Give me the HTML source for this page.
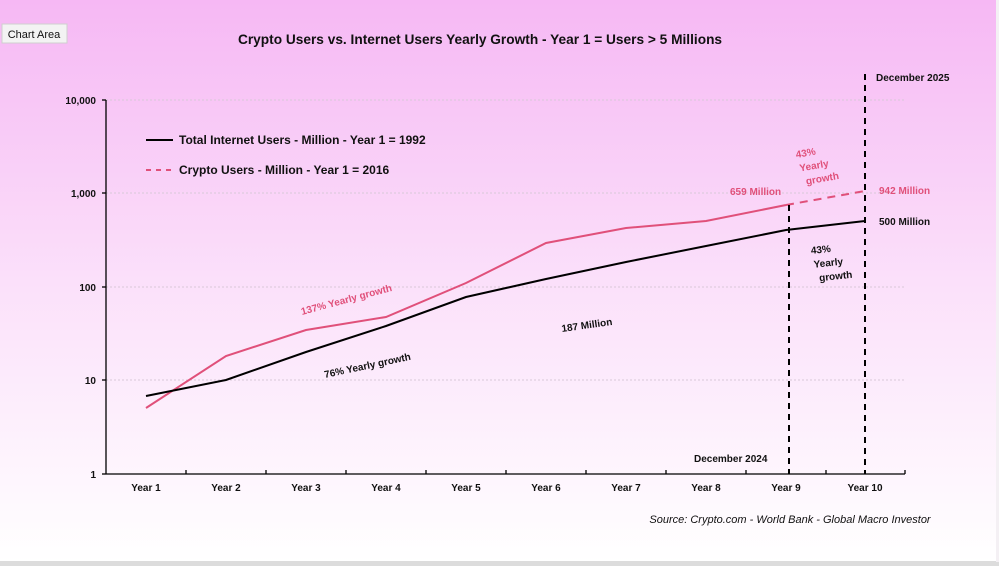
<!DOCTYPE html>
<html><head><meta charset="utf-8"><style>
html,body{margin:0;padding:0}
body{width:999px;height:566px;overflow:hidden;background:#fff;font-family:"Liberation Sans",sans-serif}
</style></head><body>
<svg width="999" height="566" viewBox="0 0 999 566" xmlns="http://www.w3.org/2000/svg">
<defs>
<linearGradient id="bg" x1="0" y1="0" x2="0" y2="1">
<stop offset="0" stop-color="#f6b8f4"/>
<stop offset="0.5" stop-color="#fbe0fa"/>
<stop offset="1" stop-color="#ffffff"/>
</linearGradient>
</defs>
<rect x="0" y="0" width="996" height="562" fill="url(#bg)"/>
<rect x="0" y="561" width="999" height="5" fill="#dcdcdc"/>
<rect x="996" y="0" width="3" height="562" fill="#f4f0f4"/>
<rect x="2" y="24" width="65" height="19" fill="#f3f3f3" stroke="#cfcfcf"/>
<text x="34" y="38" font-size="11" text-anchor="middle" fill="#111">Chart Area</text>
<text x="480" y="44" font-size="13.7" font-weight="bold" text-anchor="middle" fill="#111">Crypto Users vs. Internet Users Yearly Growth - Year 1 = Users &gt; 5 Millions</text>
<g stroke="#d8c8d8" stroke-dasharray="2,2" stroke-width="1">
<line x1="106" y1="100" x2="905" y2="100"/><line x1="106" y1="193" x2="905" y2="193"/>
<line x1="106" y1="287" x2="905" y2="287"/><line x1="106" y1="380" x2="905" y2="380"/>
</g>
<g stroke="#000" stroke-width="1.3">
<line x1="106" y1="100" x2="106" y2="474"/>
<line x1="106" y1="474" x2="905" y2="474"/>
<line x1="102" y1="100" x2="106" y2="100"/><line x1="102" y1="193" x2="106" y2="193"/>
<line x1="102" y1="287" x2="106" y2="287"/><line x1="102" y1="380" x2="106" y2="380"/>
<line x1="102" y1="474" x2="106" y2="474"/>
<line x1="186" y1="470" x2="186" y2="474"/><line x1="266" y1="470" x2="266" y2="474"/>
<line x1="346" y1="470" x2="346" y2="474"/><line x1="426" y1="470" x2="426" y2="474"/>
<line x1="506" y1="470" x2="506" y2="474"/><line x1="586" y1="470" x2="586" y2="474"/>
<line x1="666" y1="470" x2="666" y2="474"/><line x1="746" y1="470" x2="746" y2="474"/>
<line x1="826" y1="470" x2="826" y2="474"/><line x1="905" y1="470" x2="905" y2="474"/>
</g>
<g font-size="10" font-weight="bold" fill="#111" text-anchor="end">
<text x="96" y="104">10,000</text><text x="96" y="197">1,000</text>
<text x="96" y="291">100</text><text x="96" y="384">10</text><text x="96" y="478">1</text>
</g>
<g font-size="10" font-weight="bold" fill="#111" text-anchor="middle">
<text x="146" y="491">Year 1</text><text x="226" y="491">Year 2</text><text x="306" y="491">Year 3</text>
<text x="386" y="491">Year 4</text><text x="466" y="491">Year 5</text><text x="546" y="491">Year 6</text>
<text x="626" y="491">Year 7</text><text x="706" y="491">Year 8</text><text x="786" y="491">Year 9</text>
<text x="865" y="491">Year 10</text>
</g>
<polyline fill="none" stroke="#e0507a" stroke-width="2" points="146,408 226,356 306,330 386,317 466,283 546,243 626,228 706,221 786,205"/>
<line x1="786" y1="205" x2="865" y2="191" stroke="#e0507a" stroke-width="2" stroke-dasharray="8,6"/>
<polyline fill="none" stroke="#000" stroke-width="2" points="146,396 226,380 306,352 386,326 466,297 546,279 626,262 706,246 786,230 865,221"/>
<line x1="789" y1="205" x2="789" y2="474" stroke="#000" stroke-width="2" stroke-dasharray="6,5"/>
<line x1="865" y1="74" x2="865" y2="474" stroke="#000" stroke-width="2" stroke-dasharray="6,5"/>
<line x1="146" y1="140" x2="173" y2="140" stroke="#000" stroke-width="2"/>
<line x1="146" y1="170" x2="175" y2="170" stroke="#e0507a" stroke-width="2" stroke-dasharray="5,5"/>
<g font-size="12" font-weight="bold" fill="#111">
<text x="179" y="144">Total Internet Users - Million - Year 1 = 1992</text>
<text x="179" y="174">Crypto Users - Million - Year 1 = 2016</text>
</g>
<g font-size="10" font-weight="bold">
<text x="876" y="81" fill="#111">December 2025</text>
<text x="694" y="462" fill="#111">December 2024</text>
<text x="730" y="195" fill="#e0507a">659 Million</text>
<text x="879" y="194" fill="#e0507a">942 Million</text>
<text x="879" y="225" fill="#111">500 Million</text>
<text x="562" y="332" fill="#111" transform="rotate(-8 562 332)">187 Million</text>
<text x="302" y="315" fill="#e0507a" transform="rotate(-15 302 315)">137% Yearly growth</text>
<text x="325" y="378" fill="#111" transform="rotate(-12 325 378)">76% Yearly growth</text>
<g fill="#e0507a" transform="rotate(-10 820 165)">
<text x="808" y="154" text-anchor="middle">43%</text>
<text x="814" y="168" text-anchor="middle">Yearly</text>
<text x="820" y="182" text-anchor="middle">growth</text>
</g>
<g fill="#111" transform="rotate(-6 830 260)">
<text x="822" y="252" text-anchor="middle">43%</text>
<text x="828" y="266" text-anchor="middle">Yearly</text>
<text x="834" y="280" text-anchor="middle">growth</text>
</g>
</g>
<text x="790" y="523" font-size="11" font-style="italic" fill="#111" text-anchor="middle">Source: Crypto.com - World Bank - Global Macro Investor</text>
</svg>
</body></html>
